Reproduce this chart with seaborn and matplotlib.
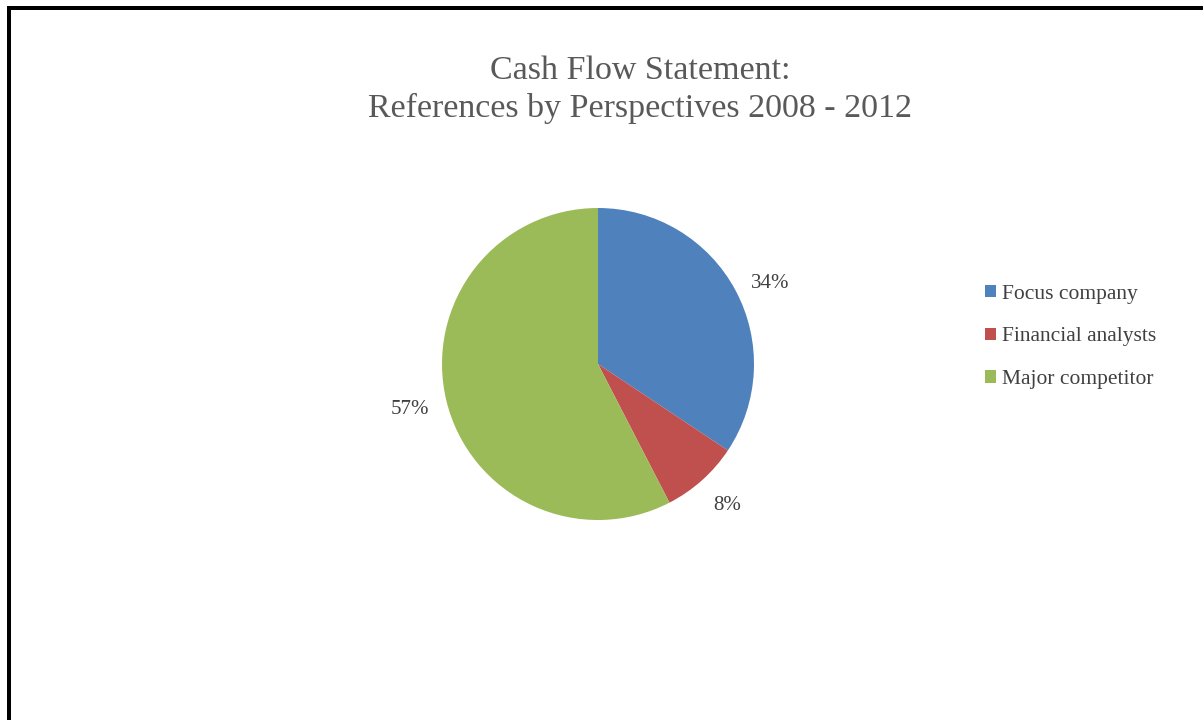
import matplotlib
matplotlib.use("Agg")
import matplotlib.pyplot as plt
from matplotlib.lines import Line2D
from matplotlib.patches import Patch
import numpy as np
import seaborn as sns

# Share of references by perspective (percent)
categories = ["Focus company", "Financial analysts", "Major competitor"]
shares = [34, 8, 57]
colors = ["#4F81BD", "#C0504D", "#9BBB59"]
title_lines = ["Cash Flow Statement:", "References by Perspectives 2008 - 2012"]

sns.set_theme(style="white")
plt.rcParams["font.family"] = ["Liberation Serif", "DejaVu Serif"]

W, H, DPI = 1203, 720, 100
fig = plt.figure(figsize=(W / DPI, H / DPI), dpi=DPI)
fig.patch.set_facecolor("white")

# pie axes: centre (598, 364) px, radius 156 px
cx, cy, r = 598, 364, 156
ax = fig.add_axes([(cx - r) / W, (H - cy - r) / H, 2 * r / W, 2 * r / H])
wedges, texts = ax.pie(
    shares,
    colors=colors,
    startangle=90,
    counterclock=False,
    labels=[f"{v}%" for v in shares],
    labeldistance=1.24,
    textprops=dict(fontsize=15, color="#404040"),
    wedgeprops=dict(linewidth=0),
)
ax.set_xlim(-1, 1)
ax.set_ylim(-1, 1)
ax.set_aspect("equal")
ax.axis("off")
for t in texts:
    t.set_ha("center")
    t.set_va("center")
# nudge the first label slightly below its wedge bisector
x0, y0 = texts[0].get_position()
texts[0].set_position((x0 + 0.01, y0 - 0.07))
x2, y2 = texts[1].get_position()
texts[1].set_position((x2, y2 + 0.02))

# title
fig.text(640 / W, 1 - 71 / H, title_lines[0], ha="center", va="center",
         fontsize=24.5, color="#595959")
fig.text(640 / W, 1 - 108 / H, title_lines[1], ha="center", va="center",
         fontsize=24.5, color="#595959")

# legend
handles = [Patch(facecolor=c, edgecolor="none") for c in colors]
fig.legend(handles, categories, loc="center left",
           bbox_to_anchor=(985 / W, 1 - 337 / H), frameon=False,
           fontsize=15.5, labelcolor="#404040", handlelength=0.5,
           handleheight=0.5, handletextpad=0.3, labelspacing=1.1,
           borderpad=0, borderaxespad=0)

# outer frame: top and left edges
lw = 4 * 72 / DPI
fig.add_artist(Line2D([7 / W, 1.0], [1 - 8 / H, 1 - 8 / H], color="black",
                      linewidth=lw, solid_capstyle="butt",
                      transform=fig.transFigure))
fig.add_artist(Line2D([9 / W, 9 / W], [1 - 6 / H, 0.0], color="black",
                      linewidth=lw, solid_capstyle="butt",
                      transform=fig.transFigure))

fig.savefig("out.png", dpi=DPI)
